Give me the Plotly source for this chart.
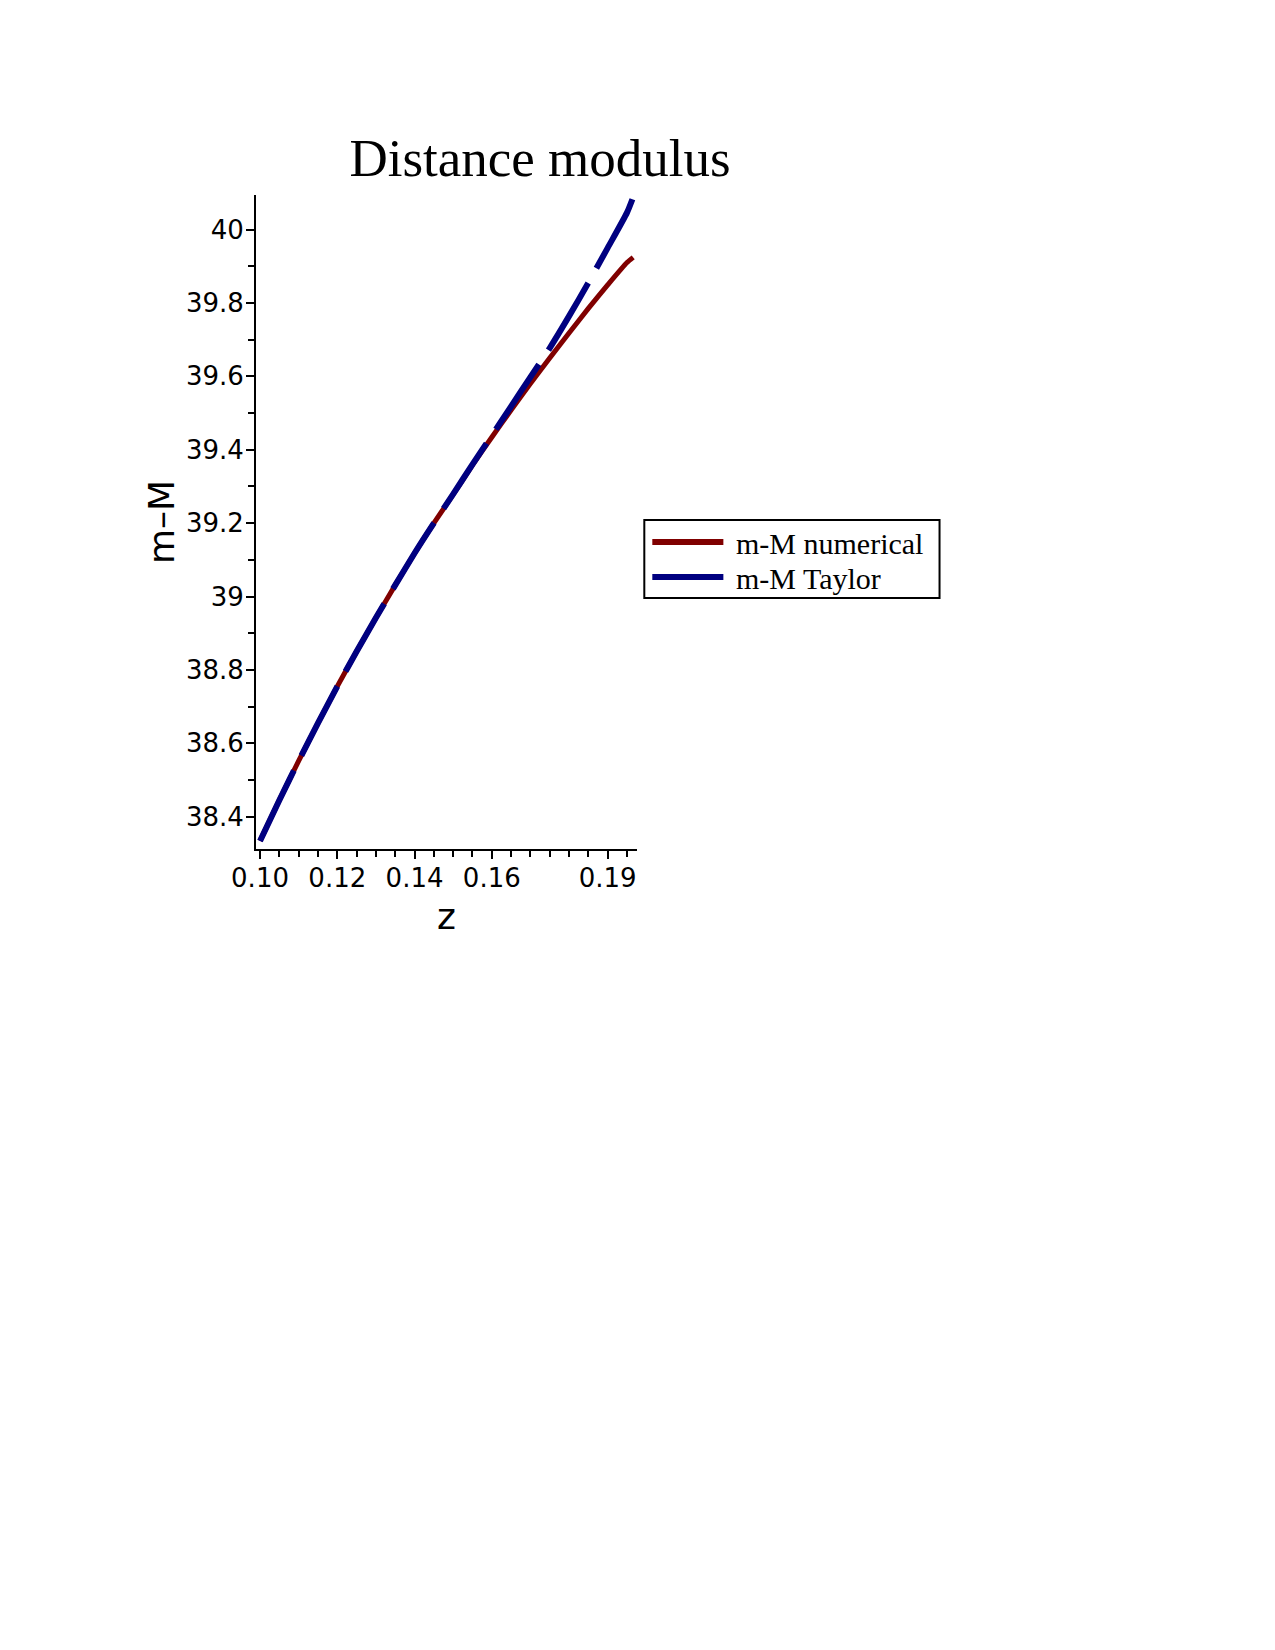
import plotly.graph_objects as go

# redshift sample points
z_vals = [0.100, 0.105, 0.110, 0.115, 0.120, 0.125, 0.130, 0.135, 0.140, 0.145,
          0.150, 0.155, 0.160, 0.165, 0.170, 0.175, 0.180, 0.185, 0.190, 0.195, 0.1966]
# m-M numerical
mM_numerical = [38.334, 38.445, 38.552, 38.655, 38.755, 38.850, 38.942, 39.031, 39.118, 39.200,
                39.278, 39.358, 39.434, 39.508, 39.580, 39.650, 39.718, 39.785, 39.849, 39.910, 39.924]
# m-M Taylor
mM_taylor = [38.334, 38.445, 38.552, 38.655, 38.755, 38.850, 38.942, 39.031, 39.118, 39.200,
             39.279, 39.360, 39.439, 39.518, 39.598, 39.677, 39.764, 39.855, 39.950, 40.046, 40.088]

series_names = ["m-M numerical", "m-M Taylor"]

x_tickvals = [0.10, 0.12, 0.14, 0.16, 0.19]
x_ticktext = ["0.10", "0.12", "0.14", "0.16", "0.19"]
y_tickvals = [38.4, 38.6, 38.8, 39.0, 39.2, 39.4, 39.6, 39.8, 40.0]
y_ticktext = ["38.4", "38.6", "38.8", "39", "39.2", "39.4", "39.6", "39.8", "40"]

RED = "rgb(128,0,0)"
BLUE = "rgb(0,0,128)"

# plot area in pixels
PL, PR, PT, PB = 256, 636.7, 195, 849


def px_x(x):
    return (x - PL) / (PR - PL)


def px_y(y):
    return (PB - y) / (PB - PT)


fig = go.Figure()
fig.add_trace(go.Scatter(x=z_vals, y=mM_numerical, mode="lines", name=series_names[0],
                         line=dict(color=RED, width=5, shape="spline", smoothing=0.6)))
fig.add_trace(go.Scatter(x=z_vals, y=mM_taylor, mode="lines", name=series_names[1],
                         line=dict(color=BLUE, width=6, dash="78px,17px",
                                   shape="spline", smoothing=0.6)))

tickfont = dict(family="DejaVu Sans", size=26, color="black")

# manual legend (box, line samples, labels)
shapes = [
    dict(type="rect", xref="paper", yref="paper",
         x0=px_x(644), x1=px_x(939), y0=px_y(598), y1=px_y(520),
         line=dict(color="black", width=2), fillcolor="white", layer="above"),
    dict(type="line", xref="paper", yref="paper",
         x0=px_x(652), x1=px_x(723), y0=px_y(542), y1=px_y(542),
         line=dict(color=RED, width=6)),
    dict(type="line", xref="paper", yref="paper",
         x0=px_x(652), x1=px_x(723), y0=px_y(577), y1=px_y(577),
         line=dict(color=BLUE, width=6)),
]
legend_font = dict(family="Liberation Serif", size=30, color="black")
annotations = [
    dict(text=series_names[0], xref="paper", yref="paper", x=px_x(734), y=px_y(543),
         xanchor="left", yanchor="middle", showarrow=False, font=legend_font),
    dict(text=series_names[1], xref="paper", yref="paper", x=px_x(734), y=px_y(578),
         xanchor="left", yanchor="middle", showarrow=False, font=legend_font),
]

fig.update_layout(
    width=1275, height=1650,
    paper_bgcolor="white", plot_bgcolor="white",
    margin=dict(l=PL, r=1275 - PR, t=PT, b=1650 - PB, autoexpand=False),
    title=dict(text="Distance modulus", x=540 / 1275, xanchor="center",
               y=1 - 176 / 1650, yanchor="bottom",
               font=dict(family="Liberation Serif", size=53, color="black")),
    showlegend=False,
    shapes=shapes,
    annotations=annotations,
    xaxis=dict(range=[0.09896, 0.19759], showgrid=False, zeroline=False,
               showline=True, linecolor="black", linewidth=2,
               tickmode="array", tickvals=x_tickvals, ticktext=x_ticktext,
               ticks="outside", ticklen=8, tickwidth=2, tickcolor="black",
               tickfont=tickfont, ticklabelstandoff=-3,
               minor=dict(tickmode="linear", tick0=0.1, dtick=0.005, ticks="outside",
                          ticklen=6, tickwidth=2, tickcolor="black", showgrid=False),
               title=dict(text="z", font=dict(family="DejaVu Sans", size=36, color="black"),
                          standoff=12)),
    yaxis=dict(range=[38.312, 40.094], showgrid=False, zeroline=False,
               showline=True, linecolor="black", linewidth=2,
               tickmode="array", tickvals=y_tickvals, ticktext=y_ticktext,
               ticks="outside", ticklen=8, tickwidth=2, tickcolor="black",
               tickfont=tickfont, ticklabelstandoff=-3,
               minor=dict(tickmode="linear", tick0=38.3, dtick=0.1, ticks="outside",
                          ticklen=6, tickwidth=2, tickcolor="black", showgrid=False),
               title=dict(text="m–M", font=dict(family="DejaVu Sans", size=36, color="black"),
                          standoff=0)),
)

fig.write_html("out.html")
